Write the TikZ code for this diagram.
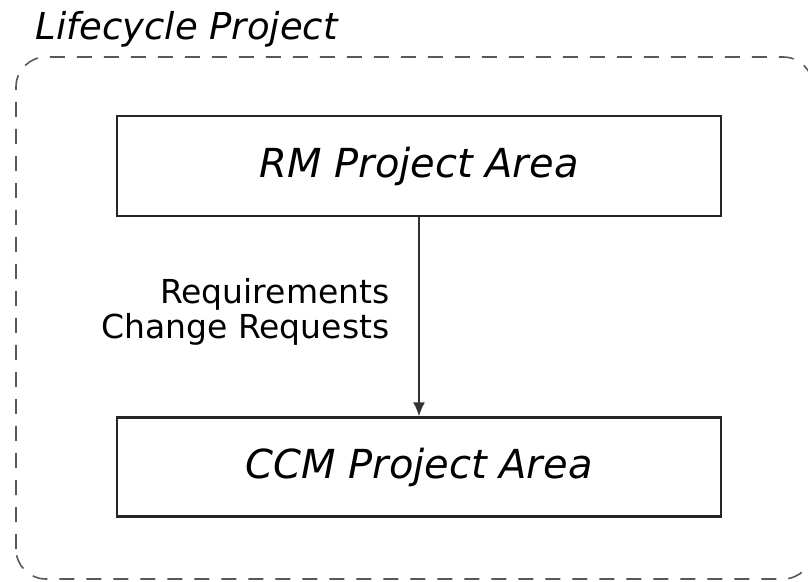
\documentclass[tikz,border=0pt]{standalone}
\usepackage{fontspec}
\setmainfont{DejaVu Sans}
\usetikzlibrary{arrows.meta,positioning}

\begin{document}
\begin{tikzpicture}[x=1pt,y=1pt,
    areaBox/.style={draw=black!85,line width=2.6pt,minimum width=604pt,minimum height=100pt,
      inner sep=0pt,font=\fontsize{40}{44}\selectfont\itshape},
    flowLabel/.style={align=right,anchor=east,font=\fontsize{33}{35}\selectfont},
    frameLine/.style={draw=black!65,line width=1.6pt,dash pattern=on 15pt off 12pt,rounded corners=30pt}]

      \useasboundingbox (0,0) rectangle (808,581);

      % the lifecycle project frame
      \draw[frameLine] (16,2) rectangle (813,524);
      \node[anchor=base west,font=\fontsize{37}{40}\selectfont\itshape] (lifecycle) at (32,541) {Lifecycle Project};

      % the two project areas
      \node[areaBox] (rmArea) at (419,415) {RM Project Area};
      \node[areaBox,below=199pt of rmArea.south,anchor=north,minimum height=99pt] (ccmArea) {CCM Project Area};

      % the link between them
      \draw[-{Latex[length=14pt,width=12pt]},line width=1.6pt,black!80] (rmArea) -- (ccmArea);
      \node[flowLabel] (flowText) at (393,269) {Requirements\\Change Requests};

\end{tikzpicture}
\end{document}
